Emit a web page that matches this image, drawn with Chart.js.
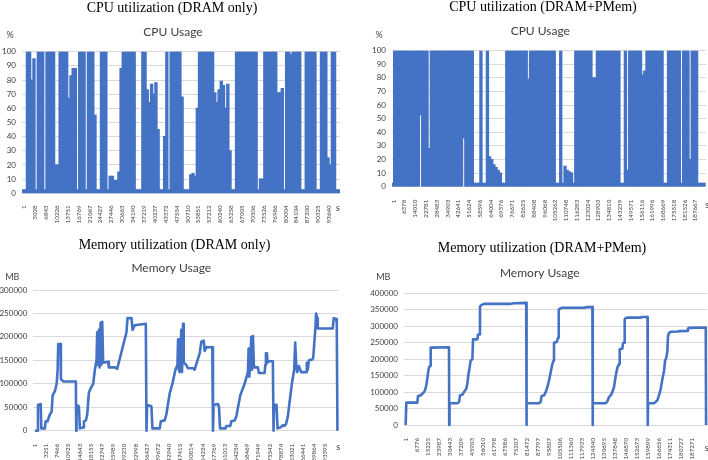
<!DOCTYPE html>
<html>
<head>
<meta charset="utf-8">
<script src="https://cdn.jsdelivr.net/npm/chart.js@4.4.1/dist/chart.umd.min.js"></script>
<style>
html,body{margin:0;padding:0;background:#fff;}
body{width:708px;height:460px;position:relative;overflow:hidden;}
.p{position:absolute;width:354px;height:230px;}
canvas{display:block;}
</style>
</head>
<body>
<div class="p" style="left:0;top:0"><canvas id="cpuDram" width="354" height="230"></canvas></div>
<div class="p" style="left:354px;top:0"><canvas id="cpuPmem" width="354" height="230"></canvas></div>
<div class="p" style="left:0;top:230px"><canvas id="memDram" width="354" height="230"></canvas></div>
<div class="p" style="left:354px;top:230px"><canvas id="memPmem" width="354" height="230"></canvas></div>
<script>
// ---------- tick labels (sample index shown on the category axis) ----------
const cpuDramTicks = ['1','3028','6843','10226','13751','16769','21067','24427','27446','30663','34190','37219','40237','43372','47554','50710','53851','57212','60240','63258','67005','70506','73526','76986','80004','84104','87200','90325','93640'];
const cpuPmemTicks = ['1','6378','14010','22781','28483','34903','42641','51624','58596','64004','69376','76671','82625','88408','96068','105262','110748','116283','123024','128903','134810','143239','149571','156116','161996','168669','175518','181526','187667'];
const memDramTicks = ['1','3251','7466','10925','14643','18155','22747','25989','29230','32998','36427','39672','42940','47415','50814','54224','57769','61013','64254','68469','71949','75542','78874','83021','86441','89864','93395'];
const memPmemTicks = ['1','6776','15225','23987','30443','37209','45903','56010','61798','67586','75207','81472','87797','95807','105506','111360','117933','124540','130695','137848','146870','152673','159899','166656','174311','180727','187271'];

// ---------- CPU usage (%) : envelope per column, columns every 0.2 tick-label steps ----------
const CPU_STEP = 0.2;
const CPU_FIRST = -0.1;
const cpuDramHi = [
 2.5,2.5,100,100,80,95,2.5,100,100,100,
 2.5,100,100,100,100,20,20,100,100,100,
 100,67,83,88,88,2.5,100,100,100,2.5,
 100,100,100,55,2.5,2.5,100,100,100,2.5,
 12,12,9,9,15,88,100,100,100,100,
 100,100,2.5,2.5,2.5,100,100,73,64,77,
 70,78,45,2.5,2.5,40,100,2.5,100,100,
 100,100,100,68,2.5,2.5,2.5,13,14,12,
 60,100,100,100,100,100,100,100,71,64,
 73,79,76,60,77,30,2.5,2.5,100,100,
 100,100,100,100,100,100,100,100,2.5,10,
 10,100,100,100,100,100,100,71,71,74,
 2.5,100,100,98,100,100,100,100,2.5,2.5,
 100,100,100,100,100,2.5,2.5,100,100,100,
 25,20,100,100,2.5,2.5
];
const cpuPmemHi = [
 2.5,100,100,100,100,100,100,100,100,100,
 100,100,100,100,100,100,100,28,100,100,
 100,100,100,100,100,100,100,100,100,100,
 100,100,100,100,100,100,100,100,2.5,2.5,
 2.5,100,2.5,2.5,100,22,20,16,14,12,
 10,2.5,2.5,100,100,100,100,100,100,100,
 100,100,100,79,100,100,100,100,100,100,
 100,100,100,100,100,100,2.5,2.5,100,2.5,
 15,12,11,10,2.5,100,100,100,100,100,
 100,100,100,80,80,100,100,100,100,100,
 100,100,100,100,100,100,2.5,2.5,100,12,
 100,100,100,100,100,100,82,85,100,100,
 100,100,100,100,100,100,2.5,2.5,100,100,
 100,100,100,100,2.5,100,100,100,20,100,
 100,100,2.5,2.5,2.5,2.5
];
const cpuPmemLo = [
 0,0,0,0,0,0,0,0,0,0,
 0,0,0,53,0,0,0,0,0,0,
 0,0,0,0,0,0,0,0,0,0,
 0,0,0,36,0,0,0,0,0,0,
 0,0,0,0,0,0,0,0,0,0,
 0,0,0,0,0,0,0,0,0,0,
 0,0,0,0,0,0,0,0,0,0,
 0,0,0,0,0,0,0,0,0,0,
 0,0,0,0,0,0,0,0,0,0,
 0,0,0,0,0,0,0,0,0,0,
 0,0,0,0,0,0,0,0,0,0,
 0,0,0,0,0,0,0,0,0,0,
 0,0,0,0,0,0,0,0,0,0,
 0,0,0,0,0,0,0,0,0,0,
 0,0,0,0,0,0
];

// ---------- Memory usage (MB), position in tick-label steps ----------
const memDramPos = [0,0.21,0.27,0.51,0.57,0.89,0.95,1.13,1.19,1.34,1.49,1.58,1.79,1.94,2.03,2.08,2.29,2.32,2.53,3.66,3.69,
 3.72,3.93,4.02,4.32,4.38,4.56,4.68,4.82,4.97,5.21,5.36,5.51,5.57,5.63,5.72,5.78,5.87,5.93,6.02,6.10,6.55,6.61,7.15,7.36,8.19,8.28,8.64,8.73,8.93,9.92,9.98,
 10.04,10.42,10.51,11.17,11.26,11.61,11.76,12.06,12.30,12.57,12.75,12.81,12.87,12.95,13.10,13.16,13.25,13.31,13.55,13.70,14.15,14.29,14.74,14.89,15.10,15.19,15.34,15.87,15.93,
 15.99,16.38,16.47,16.56,17.06,17.12,17.48,17.57,17.87,18.02,18.17,18.37,18.76,19.06,19.12,19.18,19.27,19.36,19.42,19.51,19.60,19.95,20.04,20.55,20.61,20.67,20.76,20.82,20.94,21.29,21.35,
 21.41,21.62,21.71,22.04,22.19,22.33,22.48,22.63,22.78,22.99,23.20,23.29,23.38,23.47,23.61,23.82,24.27,24.33,24.42,24.51,24.81,24.90,25.10,25.16,25.25,25.31,26.65,26.74,26.95,27.01,27.07];
const memDramMB = [0,0,55000,57000,5000,5000,20000,20000,25000,35000,40000,75000,85000,100000,130000,185000,185000,110000,105000,105000,0,
 55000,52000,5000,7000,20000,22000,35000,80000,90000,100000,130000,150000,210000,140000,215000,135000,230000,140000,232000,145000,147000,135000,135000,132000,210000,240000,240000,215000,225000,228000,0,
 55000,52000,5000,5000,20000,22000,35000,80000,100000,130000,140000,195000,130000,125000,215000,125000,228000,145000,140000,133000,133000,130000,165000,190000,192000,170000,178000,178000,0,
 55000,57000,50000,5000,5000,10000,10000,20000,22000,30000,50000,75000,100000,125000,175000,115000,145000,200000,130000,202000,135000,135000,123000,123000,140000,165000,165000,145000,148000,148000,0,
 55000,55000,5000,8000,12000,10000,15000,30000,60000,100000,130000,188000,140000,125000,138000,125000,125000,145000,130000,150000,152000,155000,220000,250000,240000,218000,218000,240000,238000,230000,0];

const memPmemPos = [0,0.06,1.06,1.12,1.36,1.51,1.66,1.75,1.87,1.96,2.06,2.12,2.24,2.27,3.93,3.95,
 3.98,4.69,4.84,4.93,5.14,5.29,5.50,5.59,5.68,5.80,5.89,6.05,6.11,6.50,6.56,6.71,6.74,6.89,7.10,9.52,9.82,10.93,10.95,
 10.98,12.09,12.24,12.33,12.55,12.70,12.85,13.00,13.15,13.30,13.39,13.45,13.69,13.82,13.88,14.06,14.21,16.17,16.48,16.93,16.95,
 16.98,18.14,18.29,18.44,18.59,18.74,18.89,19.05,19.20,19.35,19.41,19.65,19.71,19.80,19.86,19.95,20.10,21.31,21.46,21.93,21.95,
 21.98,22.52,22.67,22.82,22.97,23.13,23.28,23.43,23.52,23.64,23.73,23.79,23.88,24.03,24.64,24.79,25.54,25.60,25.70,27.21,27.24];
const memPmemMB = [0,68000,68000,88000,90000,95000,100000,105000,120000,140000,165000,175000,180000,235000,236000,0,
 66000,66000,70000,90000,92000,100000,110000,125000,150000,175000,195000,200000,260000,260000,275000,275000,360000,365000,368000,368000,370000,371000,0,
 66000,66000,70000,88000,90000,100000,115000,135000,160000,185000,195000,250000,252000,265000,350000,355000,356000,356000,358000,358000,0,
 66000,66000,72000,85000,90000,100000,115000,150000,175000,185000,230000,232000,248000,250000,320000,325000,326000,326000,328000,328000,0,
 66000,66000,70000,75000,90000,110000,140000,165000,195000,205000,225000,270000,280000,283000,284000,285000,286000,293000,295000,296000,0];

// ---------- styling ----------
const BLUE = '#4472C4';
const GRID = '#d9d9d9';
const TICK = '#404040';

// titles, subtitles and axis unit captions of each panel
const panelText = {
  id: 'panelText',
  afterDraw(chart, args, o) {
    const ctx = chart.ctx;
    ctx.save();
    ctx.textAlign = 'center';
    ctx.textBaseline = 'middle';
    ctx.fillStyle = '#000';
    ctx.font = '14px "Liberation Serif"';
    ctx.fillText(o.title, o.tx, o.ty);
    ctx.fillStyle = '#404040';
    ctx.font = '12px Lato';
    ctx.fillText(o.subtitle, o.sx, o.sy);
    ctx.fillStyle = TICK;
    ctx.font = '9px Lato';
    ctx.fillText(o.yUnit, o.yux, o.yuy);
    ctx.fillText(o.xUnit, o.xux, o.xuy);
    ctx.restore();
  }
};

function xAxis(labels, g) {
  return {
    type: 'linear', min: g.min, max: g.max, offset: false, bounds: 'data',
    grid: {display: false}, border: {display: false},
    afterBuildTicks: s => { s.ticks = labels.map((_, i) => ({value: i})); },
    afterFit: s => { s.height = 230 - g.bottom; },
    ticks: {autoSkip: false, minRotation: 90, maxRotation: 90, padding: g.xp, color: TICK,
      font: {family: 'Lato', size: 6.2}, callback: v => labels[Math.round(v)]}
  };
}
function yAxis(max, step, g) {
  return {
    min: 0, max,
    grid: {color: GRID, lineWidth: 1, drawTicks: false}, border: {display: false},
    afterFit: s => { s.width = g.left; },
    ticks: {stepSize: step, padding: 6, color: TICK, font: {family: 'Lato', size: 8}, callback: v => String(v)}
  };
}
function baseOptions(g, xs, ys, text) {
  return {
    responsive: false, animation: false, events: [],
    layout: {padding: {left: 0, right: 354 - g.right, top: g.top, bottom: 0}},
    scales: {x: xs, y: ys},
    plugins: {legend: {display: false}, tooltip: {enabled: false}, title: {display: false}, panelText: text}
  };
}

function cpuChart(id, hi, lo, labels, g, text) {
  const data = hi.map((v, i) => ({x: CPU_FIRST + i * CPU_STEP, y: lo ? [lo[i], v] : v}));
  return new Chart(document.getElementById(id), {
    type: 'bar',
    data: {datasets: [{data, backgroundColor: BLUE, borderWidth: 0, barPercentage: 1, categoryPercentage: 1, inflateAmount: 0.6}]},
    options: baseOptions(g, xAxis(labels, g), yAxis(100, 10, g), text),
    plugins: [panelText]
  });
}
function memChart(id, pos, mb, labels, ymax, g, text) {
  const data = pos.map((x, i) => ({x, y: mb[i]}));
  return new Chart(document.getElementById(id), {
    type: 'line',
    data: {datasets: [{data, borderColor: BLUE, borderWidth: 2.6, pointRadius: 0, tension: 0, fill: false, clip: false, borderJoinStyle: 'round'}]},
    options: baseOptions(g, xAxis(labels, g), yAxis(ymax, 50000, g), text),
    plugins: [panelText]
  });
}

cpuChart('cpuDram', cpuDramHi, null, cpuDramTicks,
  {left: 22, right: 340, top: 51.7, bottom: 193.3, min: -0.2, max: 29.0, xp: 4},
  {title: 'CPU utilization (DRAM only)', tx: 172, ty: 8, subtitle: 'CPU Usage', sx: 173, sy: 32,
   yUnit: '%', yux: 10, yuy: 35, xUnit: 's', xux: 338, xuy: 208});
cpuChart('cpuPmem', cpuPmemHi, cpuPmemLo, cpuPmemTicks,
  {left: 38, right: 352, top: 50.7, bottom: 186.7, min: -0.15, max: 28.95, xp: 5},
  {title: 'CPU utilization (DRAM+PMem)', tx: 189, ty: 7, subtitle: 'CPU Usage', sx: 186.3, sy: 31,
   yUnit: '%', yux: 25, yuy: 35, xUnit: 's', xux: 353.3, xuy: 205});
memChart('memDram', memDramPos, memDramMB, memDramTicks, 300000,
  {left: 33.3, right: 338, top: 60, bottom: 200.7, min: -0.15, max: 27.12, xp: 5},
  {title: 'Memory utilization (DRAM only)', tx: 174.5, ty: 15, subtitle: 'Memory Usage', sx: 171.3, sy: 38,
   yUnit: 'MB', yux: 12.3, yuy: 46.7, xUnit: 's', xux: 338.3, xuy: 216.7});
memChart('memPmem', memPmemPos, memPmemMB, memPmemTicks, 400000,
  {left: 50, right: 353.3, top: 63.3, bottom: 195, min: -0.15, max: 27.35, xp: 5},
  {title: 'Memory utilization (DRAM+PMem)', tx: 188, ty: 18, subtitle: 'Memory Usage', sx: 185.8, sy: 43,
   yUnit: 'MB', yux: 29.3, yuy: 46.7, xUnit: 's', xux: 352.7, xuy: 218.3});
</script>
</body>
</html>
